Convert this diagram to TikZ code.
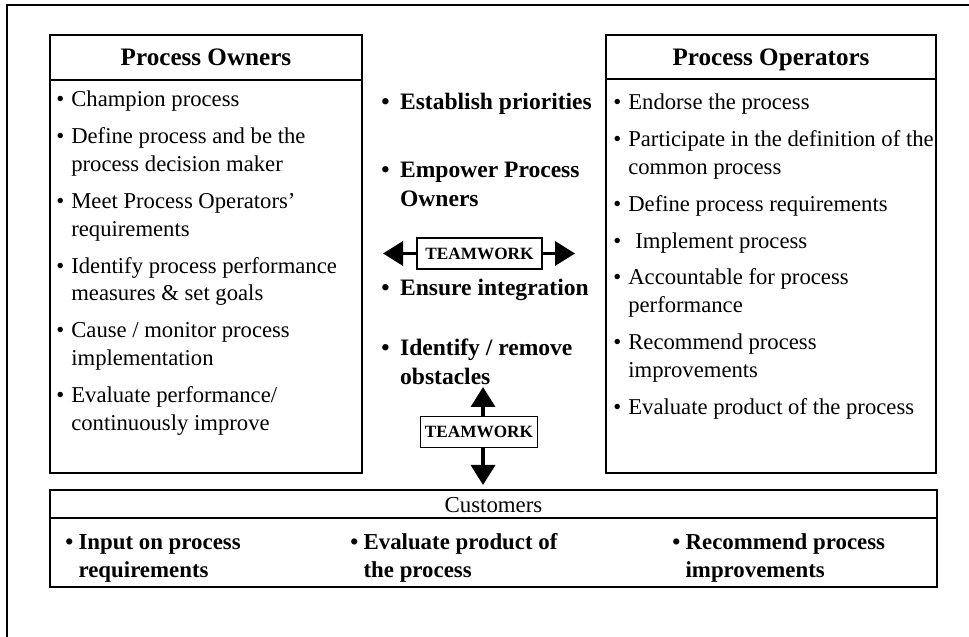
\documentclass[tikz,border=0pt]{standalone}
\usepackage{fontspec}
\setmainfont{Liberation Serif}
\usepackage{tikz}
\usetikzlibrary{arrows.meta, positioning, calc}

\begin{document}
\begin{tikzpicture}[
    % Define styles for the boxes
    role_box/.style={rectangle, draw=black, line width=1.2pt, inner sep=0pt},
    title_text/.style={anchor=base, inner sep=0pt, font=\fontsize{14.3}{17}\selectfont\bfseries},
    list_text/.style={anchor=base west, inner sep=0pt, font=\fontsize{12.9}{15.9}\selectfont},
    duty_text/.style={anchor=base west, inner sep=0pt, font=\fontsize{13.4}{16.5}\selectfont\bfseries},
    cust_text/.style={anchor=base west, inner sep=0pt, font=\fontsize{13}{15.9}\selectfont\bfseries},
    team_box/.style={rectangle, draw=black, line width=0.8pt, minimum height=0.62cm, inner sep=0pt, font=\fontsize{9.8}{11}\selectfont\bfseries},
    % Styles for arrows
    team_arrow/.style={-{Triangle[length=0.4cm, width=0.48cm]}, line width=2pt}
]
    \useasboundingbox (0,0) rectangle (19.38,12.74);

    % outer frame (only top and left edges show)
    \draw[line width=0.6pt] (0.14,0) -- (0.14,12.64) -- (19.38,12.64);

    % =========================================================================
    % PROCESS OWNERS
    % =========================================================================
    \node (owners_box) [role_box, minimum width=6.24cm, minimum height=8.76cm] at (4.12, 7.66) {};
    \draw[line width=0.8pt] ([yshift=-0.92cm]owners_box.north west) -- ([yshift=-0.92cm]owners_box.north east);
    \node (owners_title) [title_text] at ($(owners_box.north)+(0,-0.63)$) {Process Owners};

    \node (owners_list) [list_text] at (1.12, 10.6) {\begin{tabular}[t]{@{}l@{\hspace{4pt}}l@{}}
        \textbullet & Champion process\\[5pt]
        \textbullet & Define process and be the\\ & process decision maker\\[5pt]
        \textbullet & Meet Process Operators'\\ & requirements\\[5pt]
        \textbullet & Identify process performance\\ & measures \& set goals\\[5pt]
        \textbullet & Cause / monitor process\\ & implementation\\[5pt]
        \textbullet & Evaluate performance/\\ & continuously improve
    \end{tabular}};

    % =========================================================================
    % PROCESS OPERATORS
    % =========================================================================
    \node (operators_box) [role_box, minimum width=6.6cm, minimum height=8.76cm] at (15.42, 7.66) {};
    \draw[line width=0.8pt] ([yshift=-0.9cm]operators_box.north west) -- ([yshift=-0.9cm]operators_box.north east);
    \node (operators_title) [title_text] at ($(operators_box.north)+(0,-0.63)$) {Process Operators};

    \node (operators_list) [list_text] at (12.26, 10.54) {\begin{tabular}[t]{@{}l@{\hspace{4pt}}l@{}}
        \textbullet & Endorse the process\\[5pt]
        \textbullet & Participate in the definition of the\\ & common process\\[5pt]
        \textbullet & Define process requirements\\[5pt]
        \textbullet & \hspace{4pt}Implement process\\[5pt]
        \textbullet & Accountable for process\\ & performance\\[5pt]
        \textbullet & Recommend process\\ & improvements\\[5pt]
        \textbullet & Evaluate product of the process
    \end{tabular}};

    % =========================================================================
    % MIDDLE COLUMN - MANAGEMENT DUTIES
    % =========================================================================
    \node (establish) [duty_text] at (7.62, 10.54) {\textbullet\hspace{6pt}Establish priorities};
    \node (empower) [duty_text] at (7.62, 9.18) {\begin{tabular}[t]{@{}l@{\hspace{6pt}}l@{}}\textbullet & Empower Process\\ & Owners\end{tabular}};
    \node (ensure) [duty_text] at (7.62, 6.82) {\textbullet\hspace{6pt}Ensure integration};
    \node (identify) [duty_text] at (7.62, 5.62) {\begin{tabular}[t]{@{}l@{\hspace{6pt}}l@{}}\textbullet & Identify / remove\\ & obstacles\end{tabular}};

    % Teamwork between owners and operators
    \node (team_h) [team_box, minimum width=2.5cm] at (9.59, 7.67) {TEAMWORK};
    \coordinate (h_left) at (7.66, 7.67);
    \coordinate (h_right) at (11.5, 7.67);
    \draw [team_arrow] (team_h.west) -- (h_left);
    \draw [team_arrow] (team_h.east) -- (h_right);

    % Teamwork with customers
    \node (team_v) [team_box, minimum width=2.34cm] at (9.58, 4.1) {TEAMWORK};
    \coordinate (v_top) at (9.66, 5.0);
    \coordinate (v_bot) at (9.66, 3.04);
    \draw [team_arrow] (team_v.north -| v_top) -- (v_top);
    \draw [team_arrow] (team_v.south -| v_bot) -- (v_bot);

    % =========================================================================
    % CUSTOMERS
    % =========================================================================
    \node (cust_box) [role_box, minimum width=17.74cm, minimum height=1.94cm] at (9.87, 1.97) {};
    \draw[line width=0.8pt] ([yshift=-0.58cm]cust_box.north west) -- ([yshift=-0.58cm]cust_box.north east);
    \node (cust_title) [inner sep=0pt, font=\fontsize{13}{15}\selectfont] at ($(cust_box.north)+(0,-0.32)$) {Customers};

    \node (cust_input) [cust_text] at (1.3, 1.74) {\begin{tabular}[t]{@{}l@{\hspace{3pt}}l@{}}\textbullet & Input on process\\ & requirements\end{tabular}};
    \node (cust_eval) [cust_text] at (7.0, 1.74) {\begin{tabular}[t]{@{}l@{\hspace{3pt}}l@{}}\textbullet & Evaluate product of\\ & the process\end{tabular}};
    \node (cust_rec) [cust_text] at (13.44, 1.74) {\begin{tabular}[t]{@{}l@{\hspace{3pt}}l@{}}\textbullet & Recommend process\\ & improvements\end{tabular}};

\end{tikzpicture}
\end{document}
